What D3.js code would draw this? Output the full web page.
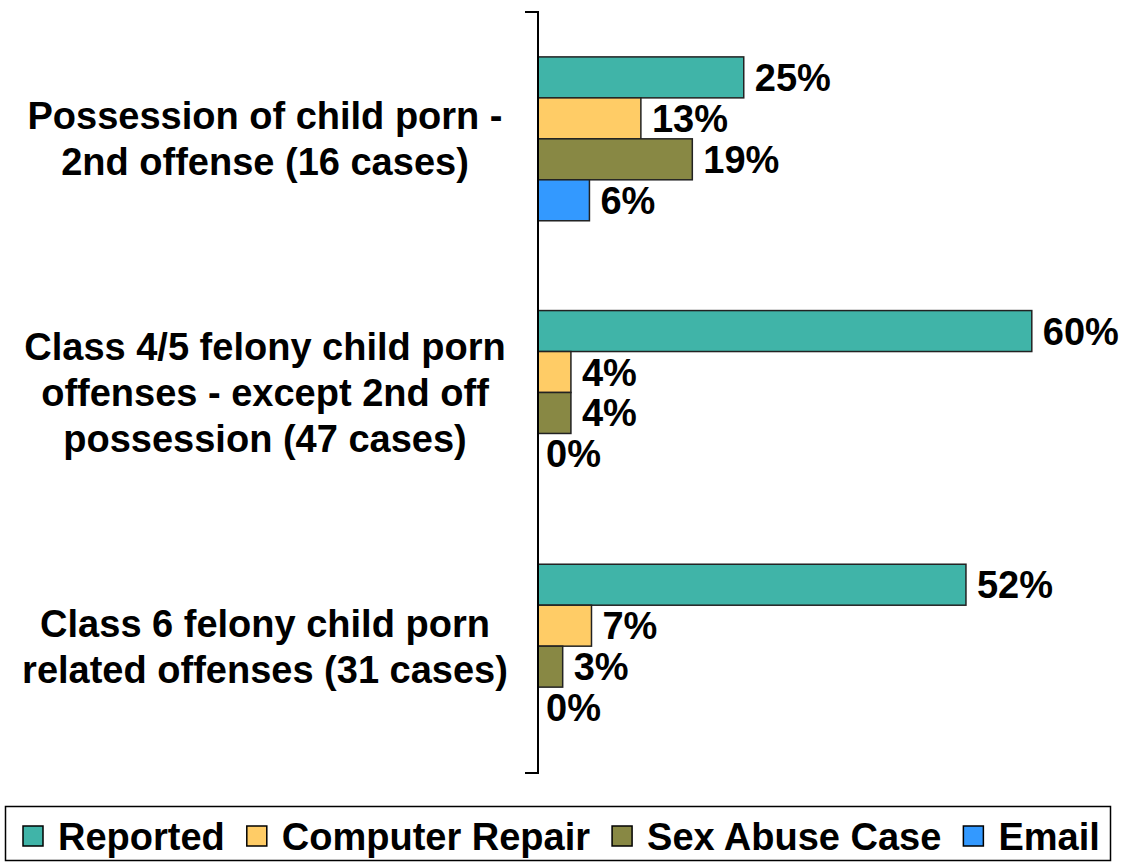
<!DOCTYPE html>
<html>
<head>
<meta charset="utf-8">
<script src="https://cdn.jsdelivr.net/npm/d3@7"></script>
<style>
  body { margin: 0; background: #fff; }
  text { font-family: "Liberation Sans", Arial, sans-serif; font-weight: bold; }
</style>
</head>
<body>
<div id="chart"></div>
<script>
// categories (each label split into lines)
const categories = [
    ['Possession of child porn -', '2nd offense (16 cases)'],
    ['Class 4/5 felony child porn', 'offenses - except 2nd off', 'possession (47 cases)'],
    ['Class 6 felony child porn', 'related offenses (31 cases)']
];
const seriesNames = ['Reported', 'Computer Repair', 'Sex Abuse Case', 'Email'];
const seriesColors = ['#40B4A8', '#FFCC66', '#888844', '#3399FF'];
const reported = [25, 60, 52];
const computerRepair = [12.5, 4, 6.5];
const sexAbuse = [18.75, 4, 3];
const email = [6.25, 0, 0];
const valueLabels = [
    ['25%', '13%', '19%', '6%'],
    ['60%', '4%', '4%', '0%'],
    ['52%', '7%', '3%', '0%']
];

const series = [reported, computerRepair, sexAbuse, email];

var width = 1126;
var height = 862;
var fontSize = 38;

var svg = d3.select('#chart')
    .append('svg')
    .attr('width', width)
    .attr('height', height);

var x = d3.scaleLinear().domain([0, 100]).range([538, 538 + 823]);
var y = d3.scaleBand()
    .domain(d3.range(categories.length))
    .range([12, 773])
    .paddingInner(0.354)
    .paddingOuter(0.177);
var ySub = d3.scaleBand()
    .domain(d3.range(seriesNames.length))
    .range([0, y.bandwidth()]);

// bars
var groups = svg.selectAll('g.cat')
    .data(categories)
    .enter()
    .append('g')
    .attr('class', 'cat')
    .attr('transform', (d, i) => 'translate(0,' + y(i) + ')');

groups.each(function (cat, ci) {
    var g = d3.select(this);
    var rows = seriesNames.map((s, si) => ({ si: si, value: series[si][ci], label: valueLabels[ci][si] }));

    g.selectAll('rect')
        .data(rows.filter(r => r.value > 0))
        .enter()
        .append('rect')
        .attr('x', x(0))
        .attr('y', r => ySub(r.si))
        .attr('width', r => x(r.value) - x(0))
        .attr('height', ySub.bandwidth())
        .attr('fill', r => seriesColors[r.si])
        .attr('stroke', '#222')
        .attr('stroke-width', 1.5);

    g.selectAll('text.val')
        .data(rows)
        .enter()
        .append('text')
        .attr('class', 'val')
        .attr('x', r => x(r.value) + (r.value > 0 ? 11 : 8))
        .attr('y', r => ySub(r.si) + ySub.bandwidth() / 2 + 13.5)
        .attr('font-size', fontSize)
        .attr('fill', '#000')
        .text(r => r.label);

    // category label
    var lh = 46;
    var n = cat.length;
    g.append('text')
        .attr('text-anchor', 'middle')
        .attr('font-size', fontSize)
        .attr('fill', '#000')
        .selectAll('tspan')
        .data(cat)
        .enter()
        .append('tspan')
        .attr('x', 265)
        .attr('y', (d, i) => y.bandwidth() / 2 + 13.5 + (i - (n - 1) / 2) * lh)
        .text(d => d);
});

// axis line with end ticks
var axisPath = d3.path();
axisPath.moveTo(525, 12);
axisPath.lineTo(538, 12);
axisPath.lineTo(538, 773);
axisPath.lineTo(525, 773);
svg.append('path')
    .attr('d', axisPath.toString())
    .attr('fill', 'none')
    .attr('stroke', '#000')
    .attr('stroke-width', 2);

// legend
svg.append('rect')
    .attr('x', 5.5)
    .attr('y', 806.5)
    .attr('width', 1105)
    .attr('height', 54)
    .attr('fill', '#fff')
    .attr('stroke', '#000')
    .attr('stroke-width', 1.5);

var legend = svg.selectAll('g.legend')
    .data(seriesNames)
    .enter()
    .append('g')
    .attr('class', 'legend');

legend.append('rect')
    .attr('x', 0)
    .attr('y', -10)
    .attr('width', 20)
    .attr('height', 20)
    .attr('fill', (d, i) => seriesColors[i])
    .attr('stroke', '#000')
    .attr('stroke-width', 1.5);

legend.append('text')
    .attr('x', 35)
    .attr('y', 13.5)
    .attr('font-size', fontSize)
    .attr('fill', '#000')
    .text(d => d);

// lay legend items out one after another
var lx = 23;
legend.each(function () {
    var g = d3.select(this);
    g.attr('transform', 'translate(' + lx + ',836)');
    lx += 35 + g.select('text').node().getComputedTextLength() + 22;
});
</script>
</body>
</html>
